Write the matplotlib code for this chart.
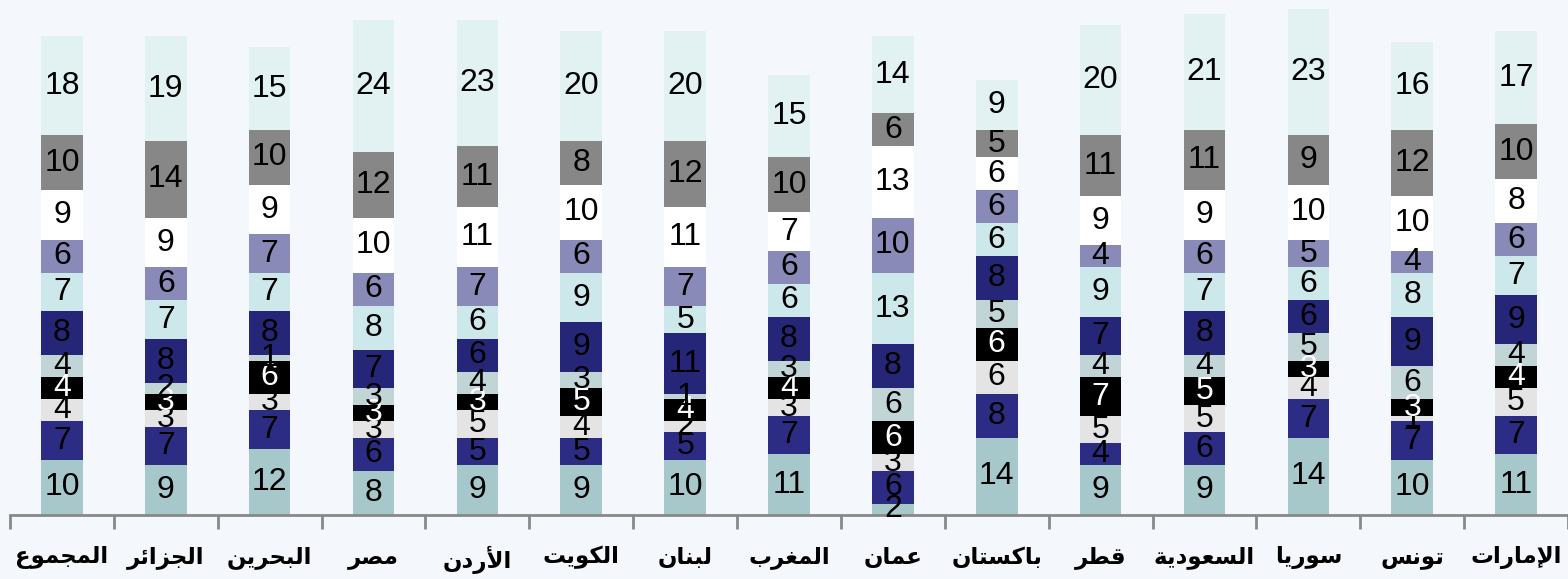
import matplotlib
matplotlib.use("Agg")
import matplotlib.pyplot as plt
import numpy as np

countries = ["المجموع", "الجزائر", "البحرين", "مصر", "الأردن", "الكويت", "لبنان",
             "المغرب", "عمان", "باكستان", "قطر", "السعودية", "سوريا", "تونس", "الإمارات"]

# stacked layers, bottom to top
layer1 = [10, 9, 12, 8, 9, 9, 10, 11, 2, 14, 9, 9, 14, 10, 11]
layer2 = [7, 7, 7, 6, 5, 5, 5, 7, 6, 8, 4, 6, 7, 7, 7]
layer3 = [4, 3, 3, 3, 5, 4, 2, 3, 3, 6, 5, 5, 4, 1, 5]
layer4 = [4, 3, 6, 3, 3, 5, 4, 4, 6, 6, 7, 5, 3, 3, 4]
layer5 = [4, 2, 1, 3, 4, 3, 1, 3, 6, 5, 4, 4, 5, 6, 4]
layer6 = [8, 8, 8, 7, 6, 9, 11, 8, 8, 8, 7, 8, 6, 9, 9]
layer7 = [7, 7, 7, 8, 6, 9, 5, 6, 13, 6, 9, 7, 6, 8, 7]
layer8 = [6, 6, 7, 6, 7, 6, 7, 6, 10, 6, 4, 6, 5, 4, 6]
layer9 = [9, 9, 9, 10, 11, 10, 11, 7, 13, 6, 9, 9, 10, 10, 8]
layer10 = [10, 14, 10, 12, 11, 8, 12, 10, 6, 5, 11, 11, 9, 12, 10]
layer11 = [18, 19, 15, 24, 23, 20, 20, 15, 14, 9, 20, 21, 23, 16, 17]

layers = [layer1, layer2, layer3, layer4, layer5, layer6,
          layer7, layer8, layer9, layer10, layer11]
colors = ["#a6c8ca", "#2c2c84", "#e4e4e4", "#000000", "#c2d5d6", "#262678",
          "#cde8ea", "#8a8ab8", "#ffffff", "#878787", "#e2f2f2"]
# white digits only on the black layer
text_colors = ["black", "black", "black", "white", "black", "black",
               "black", "black", "black", "black", "black"]


## ---- tiny arabic shaper (matplotlib has no complex text layout) ---- ##
FORMS = {
    "ا": (0xFE8D, 0xFE8E), "أ": (0xFE83, 0xFE84), "إ": (0xFE87, 0xFE88),
    "ب": (0xFE8F, 0xFE90, 0xFE91, 0xFE92), "ة": (0xFE93, 0xFE94),
    "ت": (0xFE95, 0xFE96, 0xFE97, 0xFE98), "ج": (0xFE9D, 0xFE9E, 0xFE9F, 0xFEA0),
    "ح": (0xFEA1, 0xFEA2, 0xFEA3, 0xFEA4), "د": (0xFEA9, 0xFEAA),
    "ر": (0xFEAD, 0xFEAE), "ز": (0xFEAF, 0xFEB0),
    "س": (0xFEB1, 0xFEB2, 0xFEB3, 0xFEB4), "ص": (0xFEB9, 0xFEBA, 0xFEBB, 0xFEBC),
    "ط": (0xFEC1, 0xFEC2, 0xFEC3, 0xFEC4), "ع": (0xFEC9, 0xFECA, 0xFECB, 0xFECC),
    "غ": (0xFECD, 0xFECE, 0xFECF, 0xFED0), "ق": (0xFED5, 0xFED6, 0xFED7, 0xFED8),
    "ك": (0xFED9, 0xFEDA, 0xFEDB, 0xFEDC), "ل": (0xFEDD, 0xFEDE, 0xFEDF, 0xFEE0),
    "م": (0xFEE1, 0xFEE2, 0xFEE3, 0xFEE4), "ن": (0xFEE5, 0xFEE6, 0xFEE7, 0xFEE8),
    "و": (0xFEED, 0xFEEE), "ي": (0xFEF1, 0xFEF2, 0xFEF3, 0xFEF4),
    "ئ": (0xFE89, 0xFE8A, 0xFE8B, 0xFE8C),
    "لا": (0xFEFB, 0xFEFC), "لأ": (0xFEF7, 0xFEF8), "لإ": (0xFEF9, 0xFEFA),
}


def shape(word):
    units = []
    i = 0
    while i < len(word):
        if word[i] == "ل" and i + 1 < len(word) and word[i:i + 2] in FORMS:
            units.append(word[i:i + 2])
            i += 2
        else:
            units.append(word[i])
            i += 1
    out = []
    for k, u in enumerate(units):
        f = FORMS[u]
        joins_prev = k > 0 and len(FORMS[units[k - 1]]) == 4
        joins_next = k + 1 < len(units) and len(f) == 4
        if joins_prev and joins_next:
            c = f[3]
        elif joins_prev:
            c = f[1]
        elif joins_next:
            c = f[2]
        else:
            c = f[0]
        out.append(chr(c))
    return "".join(reversed(out))


fig = plt.figure(figsize=(15.68, 5.79), dpi=100, facecolor="#f4f7fb")
ax = fig.add_axes([10 / 1568, 64 / 579, 1558 / 1568, 515 / 579])
ax.set_facecolor("none")

x = np.arange(len(countries))
bottom = np.zeros(len(countries))
for vals, col, tcol in zip(layers, colors, text_colors):
    vals = np.array(vals, dtype=float)
    ax.bar(x, vals, width=0.4, bottom=bottom, color=col, linewidth=0, zorder=2)
    for xi, b, v in zip(x, bottom, vals):
        ax.text(xi, b + v / 2, f"{int(v)}", ha="center", va="center", color=tcol,
                fontsize=23, family="Liberation Sans", zorder=5)
    bottom += vals

ax.set_xlim(-0.5, len(countries) - 0.5)
ax.set_ylim(0, 93.6)

for side in ["left", "right", "top"]:
    ax.spines[side].set_visible(False)
ax.spines["bottom"].set_color("#888888")
ax.spines["bottom"].set_linewidth(2)
ax.set_yticks([])

ax.set_xticks(x)
ax.set_xticklabels([shape(c) for c in countries], family="DejaVu Sans",
                   fontsize=16.5, fontweight="bold")
ax.tick_params(axis="x", which="major", length=0, pad=22)
ax.set_xticks(np.arange(-0.5, len(countries), 1.0), minor=True)
ax.tick_params(axis="x", which="minor", length=10, width=2, color="#888888")

plt.savefig("out.png", dpi=100, facecolor=fig.get_facecolor())
